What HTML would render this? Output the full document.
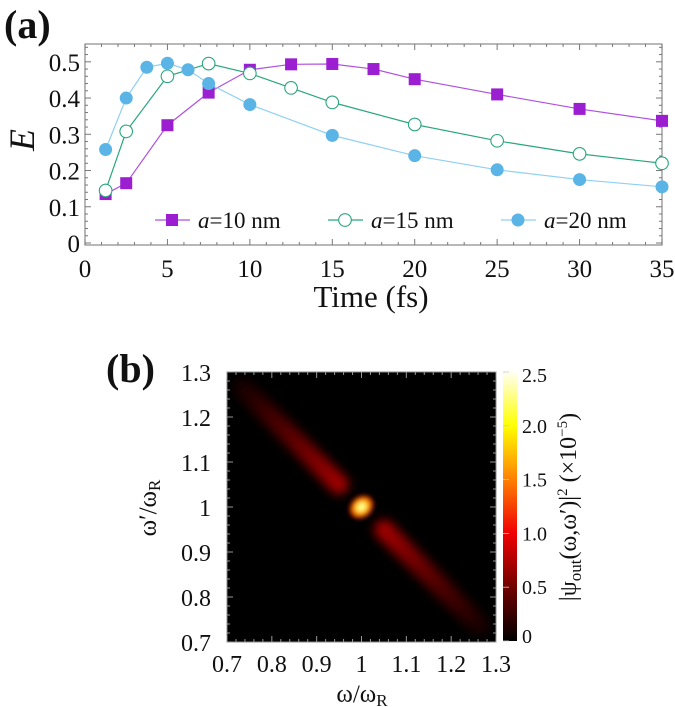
<!DOCTYPE html>
<html><head><meta charset="utf-8"><style>
html,body{margin:0;padding:0;background:#fff}
svg{display:block}
svg text{font-family:"Liberation Serif","Times New Roman",Times,serif;fill:#111}
</style></head><body>
<svg id="fig" width="675" height="707" viewBox="0 0 675 707" font-family="'Liberation Serif', 'Times New Roman', serif">
<defs>
<linearGradient id="hot" x1="0" y1="1" x2="0" y2="0">
<stop offset="0" stop-color="#000"/><stop offset="0.2" stop-color="#700000"/><stop offset="0.4" stop-color="#f00000"/>
<stop offset="0.6" stop-color="#ff8000"/><stop offset="0.8" stop-color="#ffff00"/><stop offset="1" stop-color="#fffff2"/>
</linearGradient>
<linearGradient id="lobeUL" x1="0" y1="0" x2="1" y2="0">
<stop offset="0" stop-color="#100000"/><stop offset="0.5" stop-color="#5a0000"/><stop offset="1" stop-color="#a80000"/>
</linearGradient>
<linearGradient id="lobeLR" x1="0" y1="0" x2="1" y2="0">
<stop offset="0" stop-color="#a80000"/><stop offset="0.5" stop-color="#5a0000"/><stop offset="1" stop-color="#100000"/>
</linearGradient>
<radialGradient id="spot">
<stop offset="0" stop-color="#fffff0"/><stop offset="0.3" stop-color="#ffff50"/><stop offset="0.6" stop-color="#ff9000"/><stop offset="1" stop-color="#b00000"/>
</radialGradient>
<filter id="blur" x="-50%" y="-50%" width="200%" height="200%"><feGaussianBlur stdDeviation="5"/></filter>
<filter id="blur2" x="-50%" y="-50%" width="200%" height="200%"><feGaussianBlur stdDeviation="2.5"/></filter>
<clipPath id="hmclip"><rect x="227" y="372" width="269" height="270"/></clipPath>
</defs>
<g id="topg"></g>
<g id="botg"></g>
</svg>
<script>
// ---------- chart (a) data ----------
const xTicksA = [0,5,10,15,20,25,30,35];
const yTicksA = [0,0.1,0.2,0.3,0.4,0.5];
const yTickLabelsA = ["0","0.1","0.2","0.3","0.4","0.5"];
const x10 = [1.25,2.5,5,7.5,10,12.5,15,17.5,20,25,30,35];
const y10 = [0.135,0.165,0.325,0.415,0.478,0.493,0.494,0.480,0.452,0.410,0.370,0.337];
const x15 = [1.25,2.5,5,7.5,10,12.5,15,20,25,30,35];
const y15 = [0.145,0.308,0.460,0.495,0.468,0.428,0.388,0.327,0.282,0.246,0.220];
const x20 = [1.25,2.5,3.75,5,6.25,7.5,10,15,20,25,30,35];
const y20 = [0.258,0.400,0.485,0.496,0.478,0.440,0.382,0.297,0.241,0.202,0.175,0.155];
const seriesNames = ["=10 nm","=15 nm","=20 nm"];
// ---------- chart (b) data ----------
const axTicksB = [0.7,0.8,0.9,1,1.1,1.2,1.3];
const axTickLabelsB = ["0.7","0.8","0.9","1","1.1","1.2","1.3"];
const cbTicks = [0,0.5,1.0,1.5,2.0,2.5];
const cbTickLabels = ["0","0.5","1.0","1.5","2.0","2.5"];
const lobeStartUL = [0.72,1.28], lobeEndUL = [0.965,1.035];
const lobeStartLR = [1.035,0.965], lobeEndLR = [1.28,0.72];
const peak = [1.0,1.0];

const NS="http://www.w3.org/2000/svg";
const FF="'Liberation Serif','Times New Roman',Times,serif";
function mk(tag,attrs,parent,txt){const e=document.createElementNS(NS,tag);for(const k in attrs)e.setAttribute(k,attrs[k]);if(tag==='text')e.setAttribute('font-family',FF);if(txt!==undefined)e.textContent=txt;parent.appendChild(e);return e;}

// ---- chart a ----
const A={L:85,R:662,T:44,B:245};
const xa=v=>A.L+(v-0)/35*(A.R-A.L);
const ya=v=>243-v*362.4;
const topG=document.getElementById('topg');
mk('rect',{x:A.L,y:A.T,width:A.R-A.L,height:A.B-A.T,fill:'none',stroke:'#888','stroke-width':1.2},topG);
for(let v=0;v<=35;v+=1){const len=(v%5===0)?6:3;const x=xa(v);
 mk('line',{x1:x,y1:A.B,x2:x,y2:A.B-len,stroke:'#777'},topG);mk('line',{x1:x,y1:A.T,x2:x,y2:A.T+len,stroke:'#777'},topG);}
for(let i=0;i<=27;i++){const v=i*0.02;const len=(i%5===0)?6:3;const y=ya(v);if(y<A.T)continue;
 mk('line',{x1:A.L,y1:y,x2:A.L+len,y2:y,stroke:'#777'},topG);mk('line',{x1:A.R,y1:y,x2:A.R-len,y2:y,stroke:'#777'},topG);}
xTicksA.forEach(v=>{const t=mk('text',{x:xa(v),y:277,'font-size':25,'text-anchor':'middle'},topG,String(v));
 
 });
yTicksA.forEach((v,i)=>{const t=mk('text',{x:80,y:ya(v)+9,'font-size':25,'text-anchor':'end'},topG,yTickLabelsA[i]);
 
 });
let t=mk('text',{x:371,y:307,'font-size':31,'text-anchor':'middle'},topG,'Time (fs)');


t=mk('text',{x:0,y:0,'font-size':36,'font-style':'italic','text-anchor':'middle',transform:'translate(34,140) rotate(-90)'},topG,'E');


t=mk('text',{x:4,y:38,'font-size':40,'font-weight':'bold'},topG,'(a)');


const cols=['#9b1fd0','#2aa67a','#5ab4e6'];
const lineCols=['#b050e0','#2aa67a','#8fd0f4'];
function marker(g,cx,cy,i){let m;
 if(i===0)m=mk('rect',{x:cx-6,y:cy-6,width:12,height:12,fill:cols[0]},g);
 else if(i===1)m=mk('circle',{cx,cy,r:6.3,fill:'#fff',stroke:cols[1],'stroke-width':1.1},g);
 else m=mk('circle',{cx,cy,r:6.5,fill:cols[2]},g);
 
 }
function series(xs,ys,i){const g=mk('g',{},topG);
 
 
 mk('polyline',{points:xs.map((x,k)=>xa(x)+','+ya(ys[k])).join(' '),fill:'none',stroke:lineCols[i],'stroke-width':1.2},g);
 xs.forEach((x,k)=>marker(g,xa(x),ya(ys[k]),i));}
series(x10,y10,0);series(x15,y15,1);series(x20,y20,2);
const legX=[155,328,501];
legX.forEach((lx,i)=>{const g=mk('g',{},topG);
 
 
 mk('line',{x1:lx,y1:220,x2:lx+35,y2:220,stroke:lineCols[i],'stroke-width':1.2},g);marker(g,lx+17,220,i);
 const tx=mk('text',{x:lx+43,y:228,'font-size':23},g);mk('tspan',{'font-style':'italic'},tx,'a');mk('tspan',{},tx,seriesNames[i]);});

// ---- chart b ----
const B={L:227,R:496,T:372,B:642};
const xb=v=>B.L+(v-0.7)/0.6*(B.R-B.L);
const yb=v=>B.B-(v-0.7)/0.6*(B.B-B.T);
const botG=document.getElementById('botg');
let hm=mk('g',{'clip-path':'url(#hmclip)'},botG);


mk('rect',{x:B.L,y:B.T,width:B.R-B.L,height:B.B-B.T,fill:'#000'},hm);
function lobe(s,e,grad){const x1=xb(s[0]),y1=yb(s[1]),x2=xb(e[0]),y2=yb(e[1]);
 const len=Math.hypot(x2-x1,y2-y1),ang=Math.atan2(y2-y1,x2-x1)*180/Math.PI;
 const r=mk('rect',{x:0,y:-10,width:len,height:20,rx:10,fill:'url(#'+grad+')',filter:'url(#blur)',transform:`translate(${x1},${y1}) rotate(${ang})`},hm);
 
 }
lobe(lobeStartUL,lobeEndUL,'lobeUL');lobe(lobeStartLR,lobeEndLR,'lobeLR');
const sp=mk('ellipse',{cx:xb(peak[0]),cy:yb(peak[1]),rx:13,ry:10.5,fill:'url(#spot)',filter:'url(#blur2)',transform:`rotate(-40 ${xb(peak[0])} ${yb(peak[1])})`},hm);


mk('rect',{x:B.L,y:B.T,width:B.R-B.L,height:B.B-B.T,fill:'none',stroke:'#888','stroke-width':1},botG);
for(let i=0;i<=30;i++){const v=0.7+i*0.02;const len=(i%5===0)?6:3;
 const x=xb(v),y=yb(v);
 mk('line',{x1:x,y1:B.B,x2:x,y2:B.B-len,stroke:'#999'},botG);mk('line',{x1:x,y1:B.T,x2:x,y2:B.T+len,stroke:'#999'},botG);
 mk('line',{x1:B.L,y1:y,x2:B.L+len,y2:y,stroke:'#999'},botG);mk('line',{x1:B.R,y1:y,x2:B.R-len,y2:y,stroke:'#999'},botG);}
axTicksB.forEach((v,i)=>{let a=mk('text',{x:xb(v),y:672,'font-size':24,'text-anchor':'middle'},botG,axTickLabelsB[i]);
 
 
 a=mk('text',{x:211,y:yb(v)+9,'font-size':24,'text-anchor':'end'},botG,axTickLabelsB[i]);
 
 });
t=mk('text',{x:362,y:702,'font-size':25,'text-anchor':'middle'},botG);mk('tspan',{},t,'ω/ω');mk('tspan',{'font-size':17,dy:4},t,'R');


t=mk('text',{x:0,y:0,'font-size':25,'text-anchor':'middle',transform:'translate(156,508) rotate(-90)'},botG);mk('tspan',{},t,'ω′/ω');mk('tspan',{'font-size':17,dy:4},t,'R');


t=mk('text',{x:106,y:382,'font-size':40,'font-weight':'bold'},botG,'(b)');


// colorbar
const cbT=372,cbB=641;const yc=v=>cbB-v/2.5*(cbB-cbT);
const cb=mk('rect',{x:503,y:cbT,width:14,height:cbB-cbT,fill:'url(#hot)'},botG);


cbTicks.forEach((v,i)=>{mk('line',{x1:503,y1:yc(v),x2:509,y2:yc(v),stroke:'#ccc','stroke-width':0.8},botG);
 const a=mk('text',{x:522,y:yc(v)+(i===0?2:i===5?10:7),'font-size':20},botG,cbTickLabels[i]);
 
 });
t=mk('text',{x:0,y:0,'font-size':24,'text-anchor':'middle',transform:'translate(576,507) rotate(-90)'},botG);
mk('tspan',{},t,'|ψ');mk('tspan',{'font-size':17,dy:5},t,'out');mk('tspan',{dy:-5},t,'(ω,ω′)|');mk('tspan',{'font-size':15,dy:-9},t,'2');mk('tspan',{dy:9},t,' (×10');mk('tspan',{'font-size':15,dy:-9},t,'−5');mk('tspan',{dy:9},t,')');


</script>
</body></html>
